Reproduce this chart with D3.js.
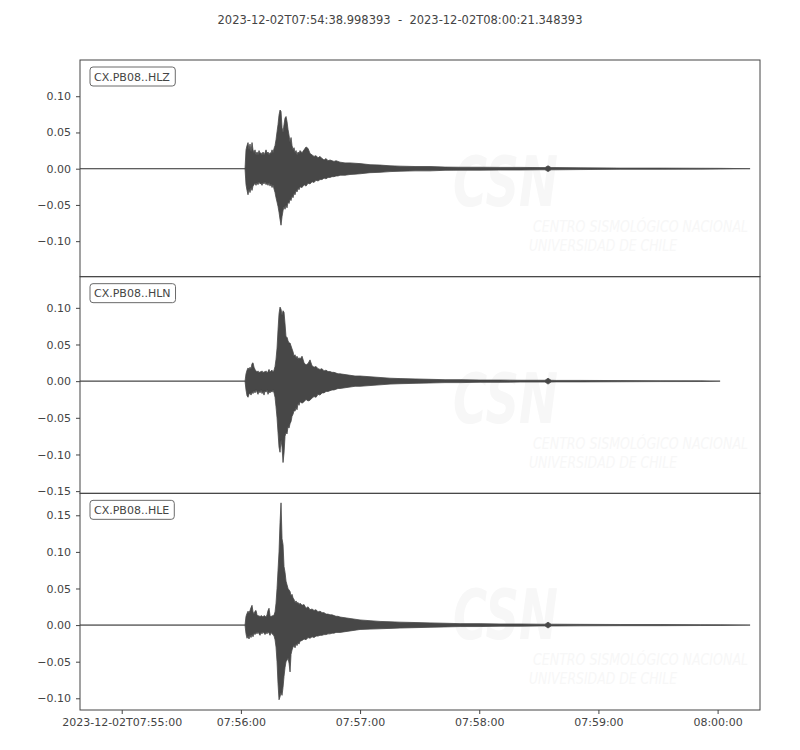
<!DOCTYPE html>
<html><head><meta charset="utf-8">
<script src="https://cdn.jsdelivr.net/npm/d3@7"></script>
<style>
body{margin:0;background:#fff;}
svg text{font-family:"DejaVu Sans",sans-serif;}
</style>
</head><body>
<svg id="chart" width="800" height="750"></svg>
<script>
// ---------------- data ----------------
const titleText = "2023-12-02T07:54:38.998393  -  2023-12-02T08:00:21.348393";
const startISO = "2023-12-02T07:54:38.998Z";
const endISO = "2023-12-02T08:00:21.348Z";
const traceIds = ["CX.PB08..HLZ", "CX.PB08..HLN", "CX.PB08..HLE"];

// seconds after start time at which the amplitude envelope was read
const offsetsSec = [
  0, 83.08, 83.58, 84.09, 84.59, 85.09, 85.60, 86.10, 86.61, 87.11, 87.61, 88.12, 88.62, 89.12, 89.63, 90.13, 90.63,
  91.14, 91.64, 92.15, 92.65, 93.15, 93.66, 94.16, 94.66, 95.17, 95.67, 96.17, 96.68, 97.18, 97.69, 98.19, 98.69, 99.20, 99.70, 100.20, 100.71,
  101.21, 101.72, 102.22, 102.72, 103.23, 103.73, 104.23, 104.74, 105.24, 105.75, 106.25, 106.75, 107.26, 107.76, 108.26, 108.77, 109.27, 109.78, 110.28, 110.78,
  111.79, 112.80, 113.80, 114.81, 115.81, 116.82, 117.83, 118.84, 119.84, 120.85, 121.85, 122.86, 123.87, 124.88, 125.88, 126.89, 127.89, 128.90, 129.91, 130.92,
  133.43, 135.95, 138.47, 140.99, 146.02, 151.06, 156.09, 161.13, 168.68, 176.23, 183.78, 191.34, 201.41, 211.48, 221.55, 231.62, 234.13, 235.64, 237.15, 239.67, 251.76, 271.90, 292.04, 312.19, 322.26, 337.36];

// HLZ envelope (max / min amplitude)
const hlzUpper = [
  0, 0, 0.026, 0.032, 0.036, 0.026, 0.034, 0.023, 0.036, 0.026, 0.022, 0.026, 0.019, 0.023, 0.019, 0.025, 0.021,
  0.022, 0.019, 0.023, 0.019, 0.022, 0.026, 0.021, 0.023, 0.019, 0.022, 0.021, 0.026, 0.022, 0.028, 0.032, 0.040, 0.051, 0.061, 0.074, 0.081,
  0.079, 0.057, 0.050, 0.061, 0.070, 0.072, 0.065, 0.054, 0.046, 0.036, 0.043, 0.032, 0.026, 0.029, 0.022, 0.025, 0.019, 0.023, 0.021, 0.025,
  0.022, 0.026, 0.030, 0.028, 0.021, 0.019, 0.017, 0.018, 0.015, 0.017, 0.014, 0.012, 0.014, 0.011, 0.012, 0.011, 0.010, 0.011, 0.010, 0.009,
  0.008, 0.008, 0.0075, 0.007, 0.0055, 0.005, 0.004, 0.0035, 0.003, 0.003, 0.0022, 0.002, 0.002, 0.0018, 0.0018, 0.0015, 0.0015, 0.004, 0.0015, 0.0015, 0.0012, 0.0008, 0.0008, 0.0006, 0.0005, 0];
const hlzLower = [
  0, 0, -0.022, -0.030, -0.036, -0.028, -0.033, -0.026, -0.030, -0.024, -0.022, -0.020, -0.023, -0.019, -0.022, -0.018, -0.021,
  -0.020, -0.023, -0.019, -0.021, -0.018, -0.022, -0.020, -0.023, -0.019, -0.024, -0.021, -0.026, -0.022, -0.028, -0.033, -0.040, -0.046, -0.052, -0.060, -0.070,
  -0.078, -0.066, -0.058, -0.052, -0.056, -0.050, -0.054, -0.046, -0.048, -0.042, -0.044, -0.038, -0.040, -0.034, -0.036, -0.030, -0.032, -0.027, -0.029, -0.025,
  -0.026, -0.022, -0.024, -0.020, -0.021, -0.018, -0.019, -0.016, -0.017, -0.015, -0.015, -0.013, -0.014, -0.012, -0.012, -0.011, -0.011, -0.010, -0.010, -0.009,
  -0.009, -0.008, -0.0075, -0.007, -0.0055, -0.005, -0.004, -0.0035, -0.003, -0.003, -0.0022, -0.002, -0.002, -0.0018, -0.0018, -0.0015, -0.0015, -0.004, -0.0015, -0.0015, -0.0012, -0.0008, -0.0008, -0.0006, -0.0005, 0];

// HLN envelope (trace ends earlier: null = no data)
const hlnUpper = [
  0, 0, 0.010, 0.015, 0.018, 0.016, 0.019, 0.017, 0.024, 0.025, 0.019, 0.016, 0.014, 0.012, 0.014, 0.011, 0.013,
  0.012, 0.014, 0.011, 0.013, 0.012, 0.014, 0.011, 0.013, 0.016, 0.012, 0.014, 0.015, 0.012, 0.015, 0.020, 0.030, 0.045, 0.070, 0.092, 0.101,
  0.098, 0.090, 0.096, 0.094, 0.078, 0.060, 0.060, 0.055, 0.052, 0.052, 0.048, 0.044, 0.040, 0.034, 0.036, 0.032, 0.034, 0.030, 0.032, 0.030,
  0.034, 0.025, 0.022, 0.024, 0.029, 0.021, 0.019, 0.020, 0.017, 0.016, 0.017, 0.014, 0.015, 0.013, 0.013, 0.012, 0.012, 0.011, 0.010, 0.010,
  0.009, 0.008, 0.007, 0.007, 0.006, 0.005, 0.004, 0.0035, 0.003, 0.0025, 0.002, 0.002, 0.0015, 0.0015, 0.0012, 0.0012, 0.0012, 0.004, 0.0012, 0.001, 0.001, 0.0008, 0.0006, 0.0005, 0, null];
const hlnLower = [
  0, 0, -0.012, -0.020, -0.022, -0.018, -0.016, -0.019, -0.015, -0.017, -0.013, -0.016, -0.012, -0.015, -0.018, -0.013, -0.016,
  -0.012, -0.017, -0.014, -0.019, -0.013, -0.015, -0.012, -0.018, -0.014, -0.016, -0.013, -0.015, -0.012, -0.016, -0.022, -0.035, -0.050, -0.070, -0.090, -0.097,
  -0.080, -0.090, -0.111, -0.098, -0.075, -0.070, -0.072, -0.062, -0.064, -0.058, -0.055, -0.048, -0.045, -0.040, -0.041, -0.036, -0.039, -0.030, -0.033, -0.028,
  -0.030, -0.028, -0.025, -0.027, -0.026, -0.023, -0.021, -0.022, -0.018, -0.019, -0.016, -0.016, -0.014, -0.014, -0.013, -0.012, -0.012, -0.011, -0.010, -0.010,
  -0.009, -0.008, -0.007, -0.007, -0.006, -0.005, -0.004, -0.0035, -0.003, -0.0025, -0.002, -0.002, -0.0015, -0.0015, -0.0012, -0.0012, -0.0012, -0.004, -0.0012, -0.001, -0.001, -0.0008, -0.0006, -0.0005, 0, null];

// HLE envelope
const hleUpper = [
  0, 0, 0.012, 0.016, 0.019, 0.017, 0.020, 0.024, 0.027, 0.018, 0.015, 0.019, 0.020, 0.014, 0.012, 0.013, 0.011,
  0.013, 0.012, 0.011, 0.013, 0.012, 0.011, 0.014, 0.020, 0.023, 0.013, 0.011, 0.013, 0.012, 0.014, 0.018, 0.030, 0.050, 0.075, 0.100, 0.140,
  0.167, 0.118, 0.110, 0.080, 0.072, 0.060, 0.055, 0.050, 0.048, 0.046, 0.040, 0.042, 0.037, 0.035, 0.031, 0.033, 0.030, 0.031, 0.028, 0.030,
  0.027, 0.028, 0.023, 0.025, 0.021, 0.022, 0.020, 0.021, 0.018, 0.019, 0.017, 0.017, 0.015, 0.015, 0.014, 0.014, 0.013, 0.012, 0.012, 0.011,
  0.010, 0.009, 0.008, 0.007, 0.006, 0.005, 0.0045, 0.004, 0.0035, 0.003, 0.0025, 0.002, 0.002, 0.0015, 0.0015, 0.0012, 0.0012, 0.004, 0.0012, 0.0012, 0.001, 0.0008, 0.0008, 0.0006, 0.0005, 0];
const hleLower = [
  0, 0, -0.012, -0.018, -0.015, -0.019, -0.014, -0.017, -0.013, -0.016, -0.011, -0.013, -0.010, -0.012, -0.009, -0.012, -0.014,
  -0.010, -0.012, -0.009, -0.011, -0.013, -0.010, -0.012, -0.009, -0.011, -0.014, -0.010, -0.012, -0.013, -0.015, -0.020, -0.030, -0.050, -0.080, -0.102, -0.098,
  -0.092, -0.096, -0.085, -0.070, -0.058, -0.050, -0.048, -0.045, -0.052, -0.064, -0.040, -0.034, -0.030, -0.028, -0.031, -0.026, -0.028, -0.024, -0.026, -0.022,
  -0.021, -0.019, -0.020, -0.017, -0.018, -0.016, -0.017, -0.015, -0.015, -0.014, -0.014, -0.013, -0.013, -0.012, -0.012, -0.011, -0.011, -0.010, -0.010, -0.010,
  -0.009, -0.008, -0.007, -0.006, -0.0055, -0.005, -0.0045, -0.004, -0.0035, -0.003, -0.0025, -0.002, -0.002, -0.0015, -0.0015, -0.0012, -0.0012, -0.004, -0.0012, -0.0012, -0.001, -0.0008, -0.0008, -0.0006, -0.0005, 0];

const yDomains = [[-0.149, 0.150], [-0.153, 0.1425], [-0.116, 0.180]];
const yTickValues = [
  [-0.10, -0.05, 0.00, 0.05, 0.10],
  [-0.15, -0.10, -0.05, 0.00, 0.05, 0.10],
  [-0.10, -0.05, 0.00, 0.05, 0.10, 0.15]
];
const xTickTimes = ["2023-12-02T07:55:00Z", "2023-12-02T07:56:00Z", "2023-12-02T07:57:00Z",
  "2023-12-02T07:58:00Z", "2023-12-02T07:59:00Z", "2023-12-02T08:00:00Z"];
const xTickLabels = ["2023-12-02T07:55:00", "07:56:00", "07:57:00", "07:58:00", "07:59:00", "08:00:00"];
const watermarkLines = ["CSN", "CENTRO SISMOLÓGICO NACIONAL", "UNIVERSIDAD DE CHILE"];

// ---------------- drawing ----------------
(function () {
const W = 800;
const pLeft = 80, pRight = 760, pTop0 = 60, pBottom = 710;
const nP = traceIds.length;
const panelH = (pBottom - pTop0) / nP;
const ink = "#444444", wave = "#474747", wmColor = "#f7f7f7";

const svg = d3.select("#chart");
const start = new Date(startISO), end = new Date(endISO);
const x = d3.scaleUtc().domain([start, end]).range([pLeft, pRight]);

svg.append("text")
  .attr("x", W / 2).attr("y", 24)
  .attr("text-anchor", "middle")
  .style("white-space", "pre")
  .attr("font-size", 11.5)
  .attr("fill", ink)
  .text(titleText);

const uppers = [hlzUpper, hlnUpper, hleUpper];
const lowers = [hlzLower, hlnLower, hleLower];

traceIds.forEach((id, i) => {
  const pTop = pTop0 + i * panelH, pBot = pTop + panelH;
  const y = d3.scaleLinear().domain(yDomains[i]).range([pBot, pTop]);
  const g = svg.append("g");

  const clipId = "clip" + i;
  g.append("clipPath").attr("id", clipId)
    .append("rect").attr("x", pLeft).attr("y", pTop).attr("width", pRight - pLeft).attr("height", panelH);

  // very faint watermark
  const wm = g.append("g").attr("fill", wmColor).attr("font-style", "italic");
  wm.append("text").attr("x", 453).attr("y", pTop + 146).attr("font-size", 70).attr("font-weight", "bold")
    .attr("textLength", 105).attr("lengthAdjust", "spacingAndGlyphs").text(watermarkLines[0]);
  wm.append("text").attr("x", 533).attr("y", pTop + 172).attr("font-size", 15)
    .attr("textLength", 215).attr("lengthAdjust", "spacingAndGlyphs").text(watermarkLines[1]);
  wm.append("text").attr("x", 529).attr("y", pTop + 191).attr("font-size", 15)
    .attr("textLength", 148).attr("lengthAdjust", "spacingAndGlyphs").text(watermarkLines[2]);

  // waveform envelope
  const pts = offsetsSec.map((s, k) => ({
    t: new Date(start.getTime() + s * 1000),
    hi: uppers[i][k], lo: lowers[i][k]
  }));
  const area = d3.area()
    .defined(d => d.hi !== null && d.lo !== null)
    .x(d => x(d.t)).y0(d => y(d.lo)).y1(d => y(d.hi));
  g.append("path").datum(pts)
    .attr("clip-path", `url(#${clipId})`)
    .attr("d", area)
    .attr("fill", wave).attr("stroke", wave).attr("stroke-width", 0.8).attr("stroke-linejoin", "round");

  // frame
  g.append("rect").attr("x", pLeft).attr("y", pTop).attr("width", pRight - pLeft).attr("height", panelH)
    .attr("fill", "none").attr("stroke", ink).attr("stroke-width", 1);

  // y axis
  const ya = g.append("g").attr("transform", `translate(${pLeft},0)`)
    .call(d3.axisLeft(y).tickValues(yTickValues[i]).tickSize(4).tickPadding(5).tickFormat(d3.format(".2f")));
  ya.select(".domain").remove();
  ya.selectAll("line").attr("stroke", ink);
  ya.selectAll("text").attr("fill", ink).attr("font-size", 11).attr("font-family", "DejaVu Sans");

  // label box
  const lbl = g.append("g");
  const txt = lbl.append("text").attr("x", pLeft + 14).attr("y", pTop + 20.5)
    .attr("font-size", 11).attr("fill", ink).text(id);
  const bb = txt.node().getBBox();
  lbl.insert("rect", "text")
    .attr("x", bb.x - 4).attr("y", pTop + 7).attr("width", bb.width + 9).attr("height", 19)
    .attr("rx", 3).attr("fill", "#fff").attr("stroke", "#6a6a6a").attr("stroke-width", 1);

  if (i === nP - 1) {
    const xa = svg.append("g").attr("transform", `translate(0,${pBot})`)
      .call(d3.axisBottom(x).tickValues(xTickTimes.map(s => new Date(s))).tickSize(4).tickPadding(4)
        .tickFormat((d, k) => xTickLabels[k]));
    xa.select(".domain").remove();
    xa.selectAll("line").attr("stroke", ink);
    xa.selectAll("text").attr("fill", ink).attr("font-size", 11).attr("font-family", "DejaVu Sans");
  }
});
})();
</script>
</body></html>
